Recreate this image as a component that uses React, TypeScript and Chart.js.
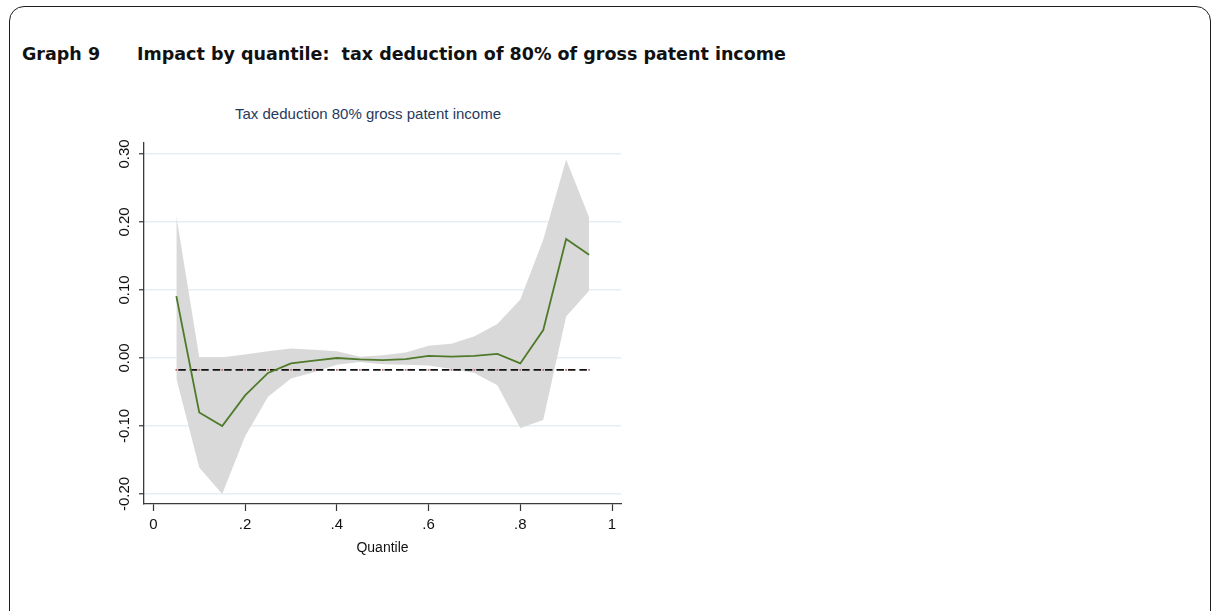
import React, { useEffect, useRef } from "react";
import { Chart, registerables } from "chart.js";

Chart.register(...registerables);

// ---- data ----
const QUANTILES = [0.05, 0.1, 0.15, 0.2, 0.25, 0.3, 0.35, 0.4, 0.45, 0.5, 0.55, 0.6, 0.65, 0.7, 0.75, 0.8, 0.85, 0.9, 0.95];
const ESTIMATE = [0.091, -0.08, -0.1, -0.055, -0.022, -0.008, -0.004, 0.0, -0.002, -0.003, -0.0015, 0.003, 0.002, 0.003, 0.006, -0.008, 0.041, 0.175, 0.152];
const UPPER_CI = [0.209, 0.001, 0.001, 0.005, 0.01, 0.014, 0.012, 0.01, 0.002, 0.004, 0.008, 0.018, 0.021, 0.032, 0.05, 0.086, 0.174, 0.292, 0.207];
const LOWER_CI = [-0.03, -0.161, -0.2, -0.115, -0.057, -0.03, -0.021, -0.01, -0.006, -0.009, -0.01, -0.011, -0.016, -0.022, -0.04, -0.103, -0.091, 0.061, 0.099];
const REFERENCE = [-0.0175, -0.0175, -0.0175, -0.0175, -0.0175, -0.0175, -0.0175, -0.0175, -0.0175, -0.0175, -0.0175, -0.0175, -0.0175, -0.0175, -0.0175, -0.0175, -0.0175, -0.0175, -0.0175];

const X_TICKS = [0, 0.2, 0.4, 0.6, 0.8, 1];
const X_TICK_LABELS = ["0", ".2", ".4", ".6", ".8", "1"];
const Y_TICKS = [-0.2, -0.1, 0, 0.1, 0.2, 0.3];
const Y_TICK_LABELS = ["-0.20", "-0.10", "0.00", "0.10", "0.20", "0.30"];

const HEADING_NUMBER = "Graph 9";
const HEADING_TEXT = "Impact by quantile:  tax deduction of 80% of gross patent income";
const CHART_TITLE = "Tax deduction 80% gross patent income";
const X_TITLE = "Quantile";

const toPoints = (ys: number[]) => QUANTILES.map((q, i) => ({ x: q, y: ys[i] }));

const SANS = "'Liberation Sans', Arial, sans-serif";
const HEADING_FONT = "'DejaVu Sans', Verdana, sans-serif";

export default function App() {
  const canvasRef = useRef<HTMLCanvasElement | null>(null);

  useEffect(() => {
    const canvas = canvasRef.current;
    if (!canvas) return;
    const chart = new Chart(canvas, {
      type: "line",
      data: {
        datasets: [
          {
            label: "upper",
            data: toPoints(UPPER_CI),
            borderColor: "rgba(0,0,0,0)",
            borderWidth: 0,
            backgroundColor: "#d9d9d9",
            fill: "+1",
            pointRadius: 0,
            tension: 0,
            order: 4,
          },
          {
            label: "lower",
            data: toPoints(LOWER_CI),
            borderColor: "rgba(0,0,0,0)",
            borderWidth: 0,
            backgroundColor: "#d9d9d9",
            fill: false,
            pointRadius: 0,
            tension: 0,
            order: 3,
          },
          {
            label: "reference",
            data: toPoints(REFERENCE),
            borderColor: "#111111",
            borderWidth: 1.6,
            borderDash: [7.5, 3.96],
            borderDashOffset: 9.5,
            fill: false,
            pointRadius: 1.2,
            pointStyle: "rect",
            pointBackgroundColor: "#c46464",
            pointBorderWidth: 0,
            tension: 0,
            order: 2,
          },
          {
            label: "estimate",
            data: toPoints(ESTIMATE),
            borderColor: "#4e7a2a",
            borderWidth: 1.8,
            fill: false,
            pointRadius: 0,
            tension: 0,
            order: 1,
          },
        ],
      },
      options: {
        animation: false,
        responsive: false,
        devicePixelRatio: 1,
        layout: { padding: { top: 53, right: 19, left: 0, bottom: 0 } },
        plugins: {
          legend: { display: false },
          tooltip: { enabled: false },
          title: { display: false },
        },
        scales: {
          x: {
            type: "linear",
            min: -0.0205,
            max: 1.0196,
            afterBuildTicks: (s: any) => {
              s.ticks = X_TICKS.map((v) => ({ value: v }));
            },
            afterFit: (s: any) => {
              s.height = 66;
            },
            grid: {
              drawOnChartArea: false,
              drawTicks: true,
              tickLength: 7,
              tickColor: "#333333",
              tickWidth: 1.2,
            },
            border: { display: true, color: "#3a3a3a", width: 1.3 },
            ticks: {
              autoSkip: false,
              maxRotation: 0,
              minRotation: 0,
              padding: 5,
              color: "#111111",
              font: { family: SANS, size: 15 },
              callback: (v: any) => {
                const i = X_TICKS.indexOf(Number(v));
                return i >= 0 ? X_TICK_LABELS[i] : "";
              },
            },
            title: {
              display: true,
              text: X_TITLE,
              color: "#111111",
              font: { family: SANS, size: 14 },
              padding: { top: 0, bottom: 13 },
            },
          },
          y: {
            type: "linear",
            min: -0.2147,
            max: 0.3162,
            afterBuildTicks: (s: any) => {
              s.ticks = Y_TICKS.map((v) => ({ value: v }));
            },
            afterFit: (s: any) => {
              s.width = 44;
            },
            grid: {
              drawOnChartArea: true,
              color: "#e5eef1",
              lineWidth: 1.5,
              drawTicks: true,
              tickLength: 5,
              tickColor: "#333333",
              tickWidth: 1.2,
            },
            border: { display: true, color: "#3a3a3a", width: 1.3 },
            ticks: {
              autoSkip: false,
              minRotation: 90,
              maxRotation: 90,
              crossAlign: "center",
              padding: -3,
              color: "#111111",
              font: { family: SANS, size: 15 },
              callback: (v: any) => {
                const i = Y_TICKS.indexOf(Number(v));
                return i >= 0 ? Y_TICK_LABELS[i] : "";
              },
            },
          },
        },
      } as any,
    });
    return () => chart.destroy();
  }, []);

  const headingStyle: React.CSSProperties = {
    position: "absolute",
    top: 45,
    fontFamily: HEADING_FONT,
    fontWeight: "bold",
    fontSize: 17.5,
    lineHeight: "18px",
    color: "#111111",
    whiteSpace: "pre",
  };

  return (
    <div
      style={{
        position: "absolute",
        left: 0,
        top: 0,
        width: 1215,
        height: 611,
        overflow: "hidden",
        background: "#ffffff",
      }}
    >
      <div
        style={{
          position: "absolute",
          left: 9,
          top: 6,
          width: 1202,
          height: 660,
          boxSizing: "border-box",
          border: "1.5px solid #1e1e1e",
          borderRadius: 15,
        }}
      />
      <div style={{ ...headingStyle, left: 22 }}>{HEADING_NUMBER}</div>
      <div style={{ ...headingStyle, left: 137 }}>{HEADING_TEXT}</div>
      <div
        style={{
          position: "absolute",
          left: 368,
          top: 106,
          transform: "translateX(-50%)",
          fontFamily: SANS,
          fontSize: 15,
          lineHeight: "15px",
          color: "#283a5c",
          whiteSpace: "pre",
        }}
      >
        {CHART_TITLE}
      </div>
      <canvas
        ref={canvasRef}
        width={540}
        height={480}
        style={{ position: "absolute", left: 100, top: 90, width: 540, height: 480 }}
      />
    </div>
  );
}
